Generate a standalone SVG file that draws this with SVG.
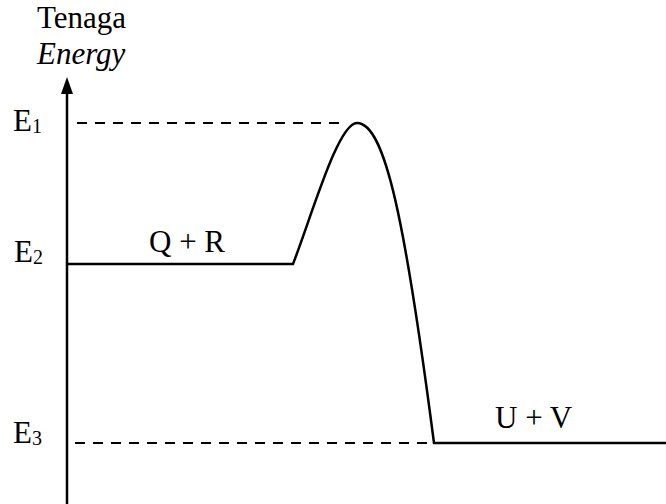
<svg xmlns="http://www.w3.org/2000/svg" width="666" height="504" viewBox="0 0 666 504">
<style>
text{font-family:"Liberation Serif","Times New Roman",serif;font-size:31px;fill:#000}
.sub{font-size:20px}
.solid{stroke:#000;stroke-width:2.5;fill:none}
.dash{stroke:#000;stroke-width:2;fill:none;stroke-dasharray:10,8}
</style>
<rect width="666" height="504" fill="#fff"/>
<g id="axis">
<line x1="67" y1="504" x2="67" y2="86" stroke="#000" stroke-width="2.5"/>
<path d="M61,94 L67,77 L73,94 Z" fill="#000"/>
<text x="37" y="28">Tenaga</text>
<text x="37" y="64" font-style="italic">Energy</text>
</g>
<g id="labels">
<text x="13" y="131">E<tspan class="sub" dy="2">1</tspan></text>
<text x="14" y="262">E<tspan class="sub" dy="2">2</tspan></text>
<text x="13" y="443">E<tspan class="sub" dy="2">3</tspan></text>
</g>
<g id="connectors">
<path class="dash" d="M77,123 H345"/>
<path class="dash" d="M75,443 H434"/>
<path class="solid" d="M67,264 H293 C312,215 338,123 357,123 C385,123 405,220 434,443 H666"/>
</g>
<g id="species">
<text x="149" y="252">Q + R</text>
<text x="495" y="428">U + V</text>
</g>
</svg>
